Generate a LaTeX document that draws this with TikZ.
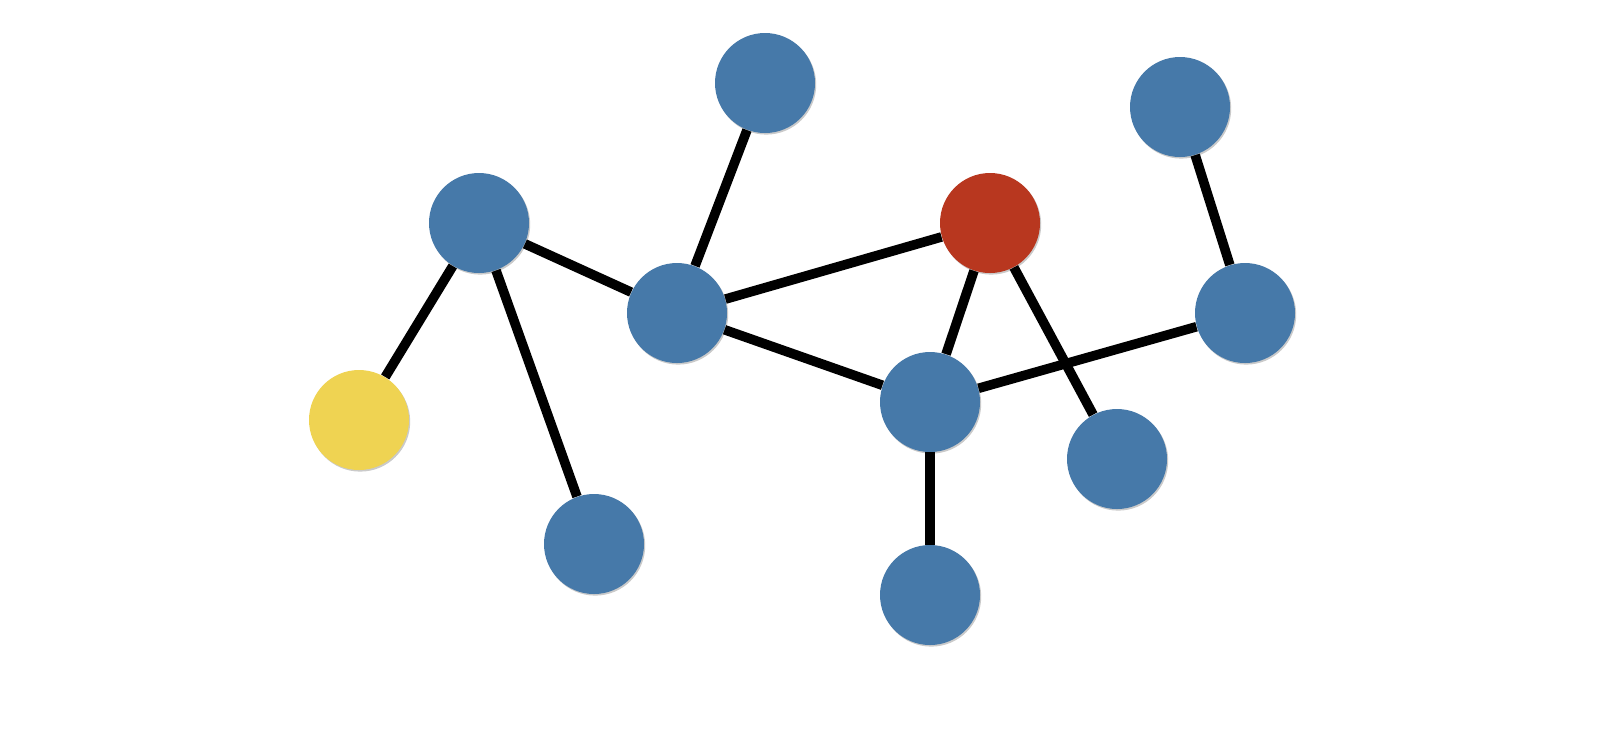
\documentclass[tikz,border=0pt]{standalone}
\usetikzlibrary{shadows}
\definecolor{nblue}{HTML}{4679A9}
\definecolor{nred}{HTML}{B8371F}
\definecolor{nyellow}{HTML}{EFD352}
\tikzset{
  vert/.style={circle, minimum size=50pt, inner sep=0pt, fill=#1,
    drop shadow={opacity=0.35, shadow xshift=0.6pt, shadow yshift=-0.8pt, fill=black!60}},
  conn/.style={line width=4.8pt, draw=black}
}
\begin{document}
\begin{tikzpicture}[x=0.5pt, y=-0.5pt]
\useasboundingbox (0,0) rectangle (1600,730);
\node[vert=nblue] (a) at (765,83) {};
\node[vert=nblue] (b) at (479,223) {};
\node[vert=nred] (c) at (990,223) {};
\node[vert=nblue] (d) at (1180,107) {};
\node[vert=nblue] (e) at (677,313) {};
\node[vert=nblue] (f) at (1245,313) {};
\node[vert=nyellow] (g) at (359,420) {};
\node[vert=nblue] (h) at (930,402) {};
\node[vert=nblue] (i) at (1117,459) {};
\node[vert=nblue] (j) at (594,544) {};
\node[vert=nblue] (k) at (930,595) {};
\draw[conn] (b) -- (g);
\draw[conn] (b) -- (j);
\draw[conn] (b) -- (e);
\draw[conn] (e) -- (a);
\draw[conn] (e) -- (c);
\draw[conn] (e) -- (h);
\draw[conn] (c) -- (h);
\draw[conn] (c) -- (i);
\draw[conn] (h) -- (f);
\draw[conn] (f) -- (d);
\draw[conn] (h) -- (k);
\end{tikzpicture}
\end{document}
